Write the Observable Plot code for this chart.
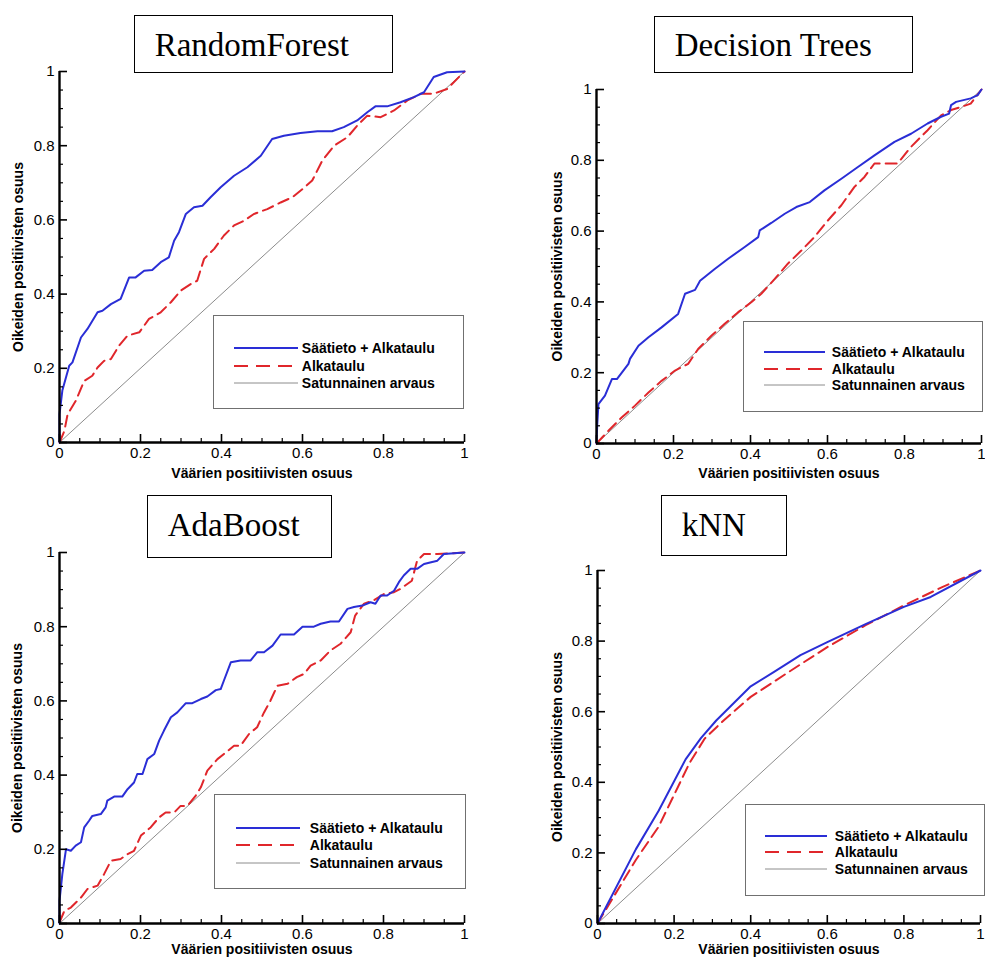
<!DOCTYPE html>
<html>
<head>
<meta charset="utf-8">
<script src="https://cdn.jsdelivr.net/npm/d3@7"></script>
<script src="https://cdn.jsdelivr.net/npm/@observablehq/plot@0.6"></script>
<style>
  html, body { margin: 0; padding: 0; background: #fff; }
  body { width: 985px; height: 958px; position: relative; overflow: hidden; font-family: "Liberation Sans", Arial, sans-serif; color: #000; }
  .panel { position: absolute; width: 490px; }
  .title { position: absolute; box-sizing: border-box; border: 1.3px solid #000; background: #fff; }
  .title span { position: absolute; white-space: nowrap; font-family: "Liberation Serif", "Times New Roman", serif; font-size: 33px; line-height: 33px; }
  .legend { position: absolute; box-sizing: border-box; border: 1.2px solid #707070; background: #fff; }
  .legend span { position: absolute; white-space: nowrap; font-weight: bold; font-size: 14px; line-height: 16px; }
  .legend svg { position: absolute; overflow: visible; }
</style>
</head>
<body>
<script>
// ---- data ----
const panelTitles = ["RandomForest", "Decision Trees", "AdaBoost", "kNN"];
const seriesNames = ["Säätieto + Alkataulu", "Alkataulu", "Satunnainen arvaus"];
const xLabel = "Väärien positiivisten osuus";
const yLabel = "Oikeiden positiivisten osuus";
const ticksMajor = [0, 0.2, 0.4, 0.6, 0.8, 1];
const tickLabels = ["0", "0.2", "0.4", "0.6", "0.8", "1"];
const ticksMinor = [0.05, 0.1, 0.15, 0.25, 0.3, 0.35, 0.45, 0.5, 0.55, 0.65, 0.7, 0.75, 0.85, 0.9, 0.95];
const diagonal = [[0, 0], [1, 1]];

// [false positive rate, true positive rate]
const rfCombined = [[0,0],[0,0.076],[0.007,0.14],[0.024,0.207],[0.032,0.216],[0.053,0.283],[0.069,0.306],[0.094,0.351],[0.106,0.355],[0.127,0.373],[0.151,0.387],[0.172,0.445],[0.188,0.445],[0.209,0.463],[0.229,0.465],[0.25,0.486],[0.27,0.499],[0.283,0.544],[0.295,0.567],[0.312,0.616],[0.332,0.634],[0.353,0.638],[0.373,0.661],[0.398,0.688],[0.431,0.719],[0.464,0.742],[0.497,0.773],[0.525,0.818],[0.554,0.827],[0.595,0.834],[0.637,0.839],[0.673,0.839],[0.702,0.85],[0.735,0.868],[0.76,0.89],[0.78,0.906],[0.809,0.906],[0.842,0.917],[0.875,0.931],[0.9,0.944],[0.924,0.985],[0.957,0.998],[1,1]];
const rfBaseline = [[0,0],[0.012,0.031],[0.02,0.076],[0.04,0.112],[0.061,0.166],[0.081,0.18],[0.094,0.202],[0.11,0.22],[0.127,0.225],[0.147,0.261],[0.168,0.288],[0.197,0.297],[0.221,0.333],[0.25,0.351],[0.275,0.378],[0.299,0.409],[0.324,0.427],[0.34,0.436],[0.357,0.495],[0.382,0.522],[0.406,0.558],[0.431,0.585],[0.456,0.598],[0.48,0.616],[0.513,0.629],[0.546,0.647],[0.575,0.661],[0.6,0.683],[0.624,0.706],[0.649,0.76],[0.678,0.8],[0.711,0.823],[0.735,0.854],[0.76,0.881],[0.793,0.877],[0.826,0.895],[0.859,0.922],[0.892,0.94],[0.924,0.94],[0.957,0.953],[1,1]];

const dtCombined = [[0,0],[0.002,0.055],[0.005,0.111],[0.022,0.135],[0.04,0.182],[0.053,0.182],[0.083,0.225],[0.087,0.239],[0.109,0.276],[0.135,0.3],[0.169,0.328],[0.212,0.366],[0.23,0.423],[0.256,0.434],[0.269,0.46],[0.307,0.493],[0.342,0.522],[0.385,0.555],[0.42,0.583],[0.424,0.602],[0.454,0.623],[0.489,0.649],[0.519,0.668],[0.554,0.682],[0.592,0.715],[0.636,0.748],[0.679,0.781],[0.722,0.814],[0.774,0.852],[0.817,0.875],[0.86,0.904],[0.895,0.923],[0.916,0.932],[0.921,0.956],[0.934,0.965],[0.972,0.975],[0.99,0.984],[1,1]];
const dtBaseline = [[0,0],[0.031,0.036],[0.066,0.074],[0.1,0.107],[0.135,0.144],[0.169,0.177],[0.204,0.206],[0.238,0.225],[0.264,0.267],[0.299,0.305],[0.333,0.338],[0.368,0.371],[0.402,0.399],[0.428,0.423],[0.463,0.465],[0.497,0.508],[0.532,0.545],[0.566,0.583],[0.601,0.63],[0.636,0.673],[0.67,0.725],[0.696,0.753],[0.722,0.791],[0.748,0.791],[0.782,0.791],[0.817,0.838],[0.86,0.885],[0.895,0.927],[0.921,0.942],[0.942,0.949],[0.972,0.96],[1,1]];

const adaCombined = [[0,0],[0,0.061],[0.007,0.133],[0.016,0.2],[0.028,0.196],[0.04,0.21],[0.053,0.219],[0.061,0.259],[0.073,0.277],[0.081,0.29],[0.102,0.295],[0.114,0.313],[0.118,0.331],[0.135,0.342],[0.155,0.342],[0.168,0.362],[0.184,0.38],[0.192,0.403],[0.205,0.403],[0.217,0.443],[0.234,0.457],[0.246,0.493],[0.258,0.52],[0.275,0.556],[0.291,0.569],[0.312,0.594],[0.328,0.594],[0.349,0.605],[0.365,0.612],[0.386,0.629],[0.398,0.632],[0.406,0.655],[0.423,0.704],[0.447,0.709],[0.472,0.709],[0.488,0.731],[0.505,0.731],[0.526,0.749],[0.546,0.779],[0.579,0.779],[0.6,0.8],[0.628,0.8],[0.645,0.808],[0.669,0.814],[0.69,0.814],[0.711,0.848],[0.727,0.853],[0.748,0.857],[0.768,0.866],[0.78,0.862],[0.793,0.884],[0.809,0.884],[0.826,0.897],[0.838,0.92],[0.85,0.938],[0.867,0.956],[0.883,0.956],[0.9,0.969],[0.933,0.978],[0.949,0.996],[1,1]];
const adaBaseline = [[0,0.003],[0.012,0.034],[0.028,0.043],[0.053,0.07],[0.069,0.093],[0.094,0.102],[0.11,0.133],[0.127,0.169],[0.151,0.174],[0.168,0.187],[0.184,0.196],[0.201,0.237],[0.225,0.259],[0.246,0.286],[0.262,0.299],[0.283,0.299],[0.299,0.317],[0.316,0.317],[0.336,0.344],[0.349,0.367],[0.365,0.412],[0.39,0.443],[0.406,0.457],[0.431,0.479],[0.447,0.479],[0.468,0.511],[0.488,0.529],[0.505,0.569],[0.521,0.601],[0.538,0.641],[0.563,0.646],[0.586,0.664],[0.604,0.673],[0.62,0.695],[0.645,0.709],[0.669,0.736],[0.694,0.754],[0.719,0.785],[0.73,0.83],[0.752,0.862],[0.776,0.871],[0.801,0.888],[0.826,0.893],[0.842,0.902],[0.87,0.924],[0.883,0.978],[0.9,0.996],[0.933,0.996],[1,1]];

const knnCombined = [[0,0],[0.1,0.21],[0.16,0.32],[0.23,0.465],[0.27,0.525],[0.31,0.575],[0.4,0.672],[0.46,0.712],[0.53,0.76],[0.6,0.797],[0.7,0.848],[0.8,0.897],[0.87,0.925],[1,1]];
const knnBaseline = [[0,0],[0.1,0.18],[0.16,0.275],[0.24,0.454],[0.28,0.524],[0.33,0.576],[0.4,0.642],[0.5,0.713],[0.6,0.783],[0.7,0.845],[0.8,0.901],[0.9,0.953],[1,1]];

// ---- layout (page pixels) ----
const panels = [
  {title: panelTitles[0], combined: rfCombined, baseline: rfBaseline, left: 0, bottom: 480,
   frame: {l: 59, t: 71, r: 464, b: 442}, xlo: 35, ylo: 46,
   box: {x: 134, y: 15, w: 259, h: 58, tx: 155, base: 57},
   leg: {x: 213, y: 315, w: 251, h: 94, lx0: 234, lx1: 298, tx: 302, rows: [348, 366, 383]}},
  {title: panelTitles[1], combined: dtCombined, baseline: dtBaseline, left: 495, bottom: 480,
   frame: {l: 596, t: 89, r: 981, b: 443}, xlo: 34, ylo: 44,
   box: {x: 654, y: 16, w: 259, h: 57, tx: 675, base: 57},
   leg: {x: 743, y: 321, w: 240, h: 91, lx0: 764, lx1: 825, tx: 832, rows: [352, 369, 385]}},
  {title: panelTitles[2], combined: adaCombined, baseline: adaBaseline, left: 0, bottom: 958,
   frame: {l: 59, t: 552, r: 464, b: 923}, xlo: 30, ylo: 47,
   box: {x: 147, y: 495, w: 185, h: 63, tx: 168, base: 537},
   leg: {x: 214, y: 794, w: 252, h: 95, lx0: 236, lx1: 300, tx: 310, rows: [828, 845, 863]}},
  {title: panelTitles[3], combined: knnCombined, baseline: knnBaseline, left: 495, bottom: 958,
   frame: {l: 597, t: 570, r: 980, b: 923}, xlo: 30, ylo: 45,
   box: {x: 661, y: 495, w: 126, h: 61, tx: 682, base: 537},
   leg: {x: 745, y: 804, w: 240, h: 92, lx0: 765, lx1: 827, tx: 835, rows: [836, 852, 869]}}
];

const BLUE = "#2a2ed6", RED = "#e0262b", GREY = "#8c8c8c";
const fmt = d => tickLabels[ticksMajor.indexOf(d)];

for (const p of panels) {
  const fw = p.frame.r - p.frame.l, fh = p.frame.b - p.frame.t;
  const svgTop = p.frame.t - 15;
  const height = p.bottom - svgTop;
  const chart = Plot.plot({
    width: 490, height,
    marginLeft: p.frame.l - p.left,
    marginRight: p.left + 490 - p.frame.r,
    marginTop: 15,
    marginBottom: height - (p.frame.b - svgTop),
    x: {domain: [0, 1]},
    y: {domain: [0, 1]},
    style: {fontFamily: "'Liberation Sans', Arial, sans-serif", fontSize: "15px", overflow: "visible", background: "transparent", maxWidth: "none", color: "#000"},
    marks: [
      Plot.line(diagonal, {x: d => d[0], y: d => d[1], stroke: GREY, strokeWidth: 1}),
      Plot.line(p.baseline, {x: d => d[0], y: d => d[1], stroke: RED, strokeWidth: 2, strokeDasharray: "11,6"}),
      Plot.line(p.combined, {x: d => d[0], y: d => d[1], stroke: BLUE, strokeWidth: 2}),
      Plot.tickX(ticksMajor, {x: d => d, insetTop: fh - 8, stroke: "#000", strokeWidth: 1.6}),
      Plot.tickX(ticksMinor, {x: d => d, insetTop: fh - 4, stroke: "#000", strokeWidth: 1.2}),
      Plot.tickY(ticksMajor, {y: d => d, insetRight: fw - 8, stroke: "#000", strokeWidth: 1.6}),
      Plot.tickY(ticksMinor, {y: d => d, insetRight: fw - 4, stroke: "#000", strokeWidth: 1.2}),
      Plot.ruleY([0], {stroke: "#000", strokeWidth: 2.4}),
      Plot.ruleX([0], {stroke: "#000", strokeWidth: 2.4}),
      Plot.axisX(ticksMajor, {tickSize: 0, tickPadding: 5, tickFormat: fmt, label: null, fontSize: 15}),
      Plot.axisY(ticksMajor, {tickSize: 0, tickPadding: 5, tickFormat: fmt, label: null, fontSize: 15}),
      Plot.axisX([], {tickSize: 0, label: xLabel, labelArrow: "none", labelAnchor: "center", labelOffset: p.xlo, fontWeight: "bold", fontSize: 14}),
      Plot.axisY([], {tickSize: 0, label: yLabel, labelArrow: "none", labelAnchor: "center", labelOffset: p.ylo, fontWeight: "bold", fontSize: 14})
    ]
  });
  const wrap = document.createElement("div");
  wrap.className = "panel";
  wrap.style.left = p.left + "px";
  wrap.style.top = svgTop + "px";
  wrap.appendChild(chart);
  document.body.appendChild(wrap);

  // title box
  const tb = document.createElement("div");
  tb.className = "title";
  Object.assign(tb.style, {left: p.box.x + "px", top: p.box.y + "px", width: p.box.w + "px", height: p.box.h + "px"});
  const ts = document.createElement("span");
  ts.textContent = p.title;
  ts.style.left = (p.box.tx - p.box.x - 1.3) + "px";
  ts.style.top = (p.box.base - p.box.y - 27.6 - 1.3) + "px";
  tb.appendChild(ts);
  document.body.appendChild(tb);

  // legend box
  const lg = document.createElement("div");
  lg.className = "legend";
  Object.assign(lg.style, {left: p.leg.x + "px", top: p.leg.y + "px", width: p.leg.w + "px", height: p.leg.h + "px"});
  const styles = [
    {stroke: BLUE, width: 2, dash: null},
    {stroke: RED, width: 2, dash: "14,8"},
    {stroke: GREY, width: 1, dash: null}
  ];
  seriesNames.forEach((name, i) => {
    const row = p.leg.rows[i] - p.leg.y - 1.2;
    const len = p.leg.lx1 - p.leg.lx0;
    const sw = document.createElementNS("http://www.w3.org/2000/svg", "svg");
    sw.setAttribute("width", len);
    sw.setAttribute("height", 10);
    sw.style.left = (p.leg.lx0 - p.leg.x - 1.2) + "px";
    sw.style.top = (row - 5) + "px";
    const ln = document.createElementNS("http://www.w3.org/2000/svg", "line");
    ln.setAttribute("x1", 0); ln.setAttribute("x2", len);
    ln.setAttribute("y1", 5); ln.setAttribute("y2", 5);
    ln.setAttribute("stroke", styles[i].stroke);
    ln.setAttribute("stroke-width", styles[i].width);
    if (styles[i].dash) ln.setAttribute("stroke-dasharray", styles[i].dash);
    sw.appendChild(ln);
    lg.appendChild(sw);
    const tx = document.createElement("span");
    tx.textContent = name;
    tx.style.left = (p.leg.tx - p.leg.x - 1.2) + "px";
    tx.style.top = (row - 7.8) + "px";
    lg.appendChild(tx);
  });
  document.body.appendChild(lg);
}
</script>
</body>
</html>
